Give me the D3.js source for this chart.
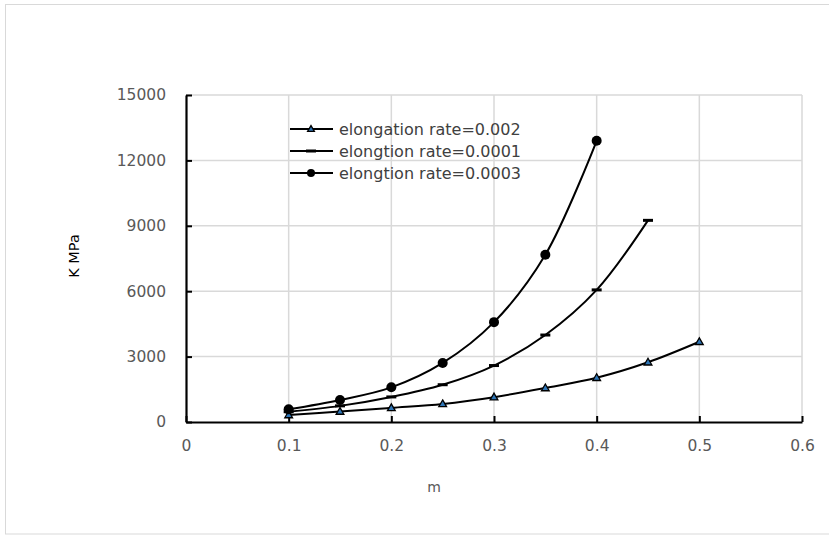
<!DOCTYPE html>
<html><head><meta charset="utf-8">
<script src="https://cdn.jsdelivr.net/npm/d3@7"></script>
<style>body{margin:0;background:#fff;} svg{display:block;}</style>
</head><body>
<svg id="c" width="829" height="535"></svg>
<script>
const mValues = [0.1,0.15,0.2,0.25,0.3,0.35,0.4,0.45,0.5];
const seriesNames = ["elongation rate=0.002","elongtion rate=0.0001","elongtion rate=0.0003"];
const kRate0002 = [320,480,650,830,1140,1560,2030,2740,3680];
const kRate00001 = [470,740,1150,1710,2590,3990,6060,9250];
const kRate00003 = [580,1010,1590,2710,4580,7670,12900];
const xTicks = [0,0.1,0.2,0.3,0.4,0.5,0.6];
const yTicks = [0,3000,6000,9000,12000,15000];

const svg = d3.select("#c");
const font = "DejaVu Sans";
svg.append("rect").attr("x",5.5).attr("y",4.5).attr("width",830).attr("height",529.5)
  .attr("fill","#fff").attr("stroke","#d9d9d9").attr("stroke-width",1);

const x = d3.scaleLinear().domain([0,0.6]).range([186,802]);
const y = d3.scaleLinear().domain([0,15000]).range([422,95]);

// grid
svg.append("g").selectAll("line").data(yTicks.slice(1)).join("line")
  .attr("x1",x(0)).attr("x2",x(0.6)).attr("y1",d=>y(d)).attr("y2",d=>y(d))
  .attr("stroke","#d9d9d9").attr("stroke-width",1.5);
svg.append("g").selectAll("line").data(xTicks.slice(1)).join("line")
  .attr("x1",d=>x(d)).attr("x2",d=>x(d)).attr("y1",y(0)).attr("y2",y(15000))
  .attr("stroke","#d9d9d9").attr("stroke-width",1.5);

// axes
const xAxis = d3.axisBottom(x).tickValues(xTicks).tickSizeInner(-6).tickSizeOuter(0).tickPadding(18)
  .tickFormat(d=>d===0?"0":d3.format(".1f")(d));
const gx = svg.append("g").attr("transform",`translate(0,${y(0)})`).call(xAxis);
const yAxis = d3.axisLeft(y).tickValues(yTicks).tickSizeInner(-6).tickSizeOuter(0).tickPadding(20)
  .tickFormat(d3.format("d"));
const gy = svg.append("g").attr("transform",`translate(${x(0)},0)`).call(yAxis);
[gx,gy].forEach(g=>{
  g.select(".domain").attr("stroke","#000").attr("stroke-width",2.2);
  g.selectAll(".tick line").attr("stroke","#000").attr("stroke-width",2);
  g.selectAll(".tick text").attr("fill","#595959").attr("font-family",font).attr("font-size",15.5);
});
gx.selectAll(".tick text").attr("dy","0.71em");

svg.append("text").attr("x",434).attr("y",492).attr("text-anchor","middle")
  .attr("font-family",font).attr("font-size",14).attr("fill","#595959").text("m");
svg.append("text").attr("transform","translate(79,256) rotate(-90)").attr("text-anchor","middle")
  .attr("font-family",font).attr("font-size",14.5).attr("fill","#000").text("K MPa");

const line = d3.line().x(d=>x(d[0])).y(d=>y(d[1])).curve(d3.curveCatmullRom.alpha(0.5));
const all = [kRate0002,kRate00001,kRate00003].map(v=>v.map((k,i)=>[mValues[i],k]));
all.forEach(pts=>{
  svg.append("path").attr("d",line(pts)).attr("fill","none").attr("stroke","#000").attr("stroke-width",2);
});

function drawMarker(g,type,cx,cy,small){
  if(type===0){
    g.append("path").attr("d",d3.symbol().type(d3.symbolTriangle).size(small?20:26)())
      .attr("transform",`translate(${cx},${cy+0.5})`).attr("fill","#2e75b6").attr("stroke","#000").attr("stroke-width",1.3);
  } else if(type===1){
    g.append("line").attr("x1",cx-5).attr("x2",cx+5).attr("y1",cy).attr("y2",cy)
      .attr("stroke","#000").attr("stroke-width",3);
  } else {
    g.append("circle").attr("cx",cx).attr("cy",cy).attr("r",small?4:5).attr("fill","#000");
  }
}
const mg = svg.append("g");
all.forEach((pts,si)=>pts.forEach(p=>drawMarker(mg,si,x(p[0]),y(p[1]),false)));

// legend
const legY = [129,151,173];
seriesNames.forEach((n,i)=>{
  const g = svg.append("g");
  g.append("line").attr("x1",290).attr("x2",333).attr("y1",legY[i]).attr("y2",legY[i])
    .attr("stroke","#000").attr("stroke-width",2);
  drawMarker(g,i,311,legY[i],true);
  g.append("text").attr("x",339).attr("y",legY[i]).attr("dy","0.35em")
    .attr("font-family",font).attr("font-size",16).attr("fill","#404040").text(n);
});
</script>
</body></html>
